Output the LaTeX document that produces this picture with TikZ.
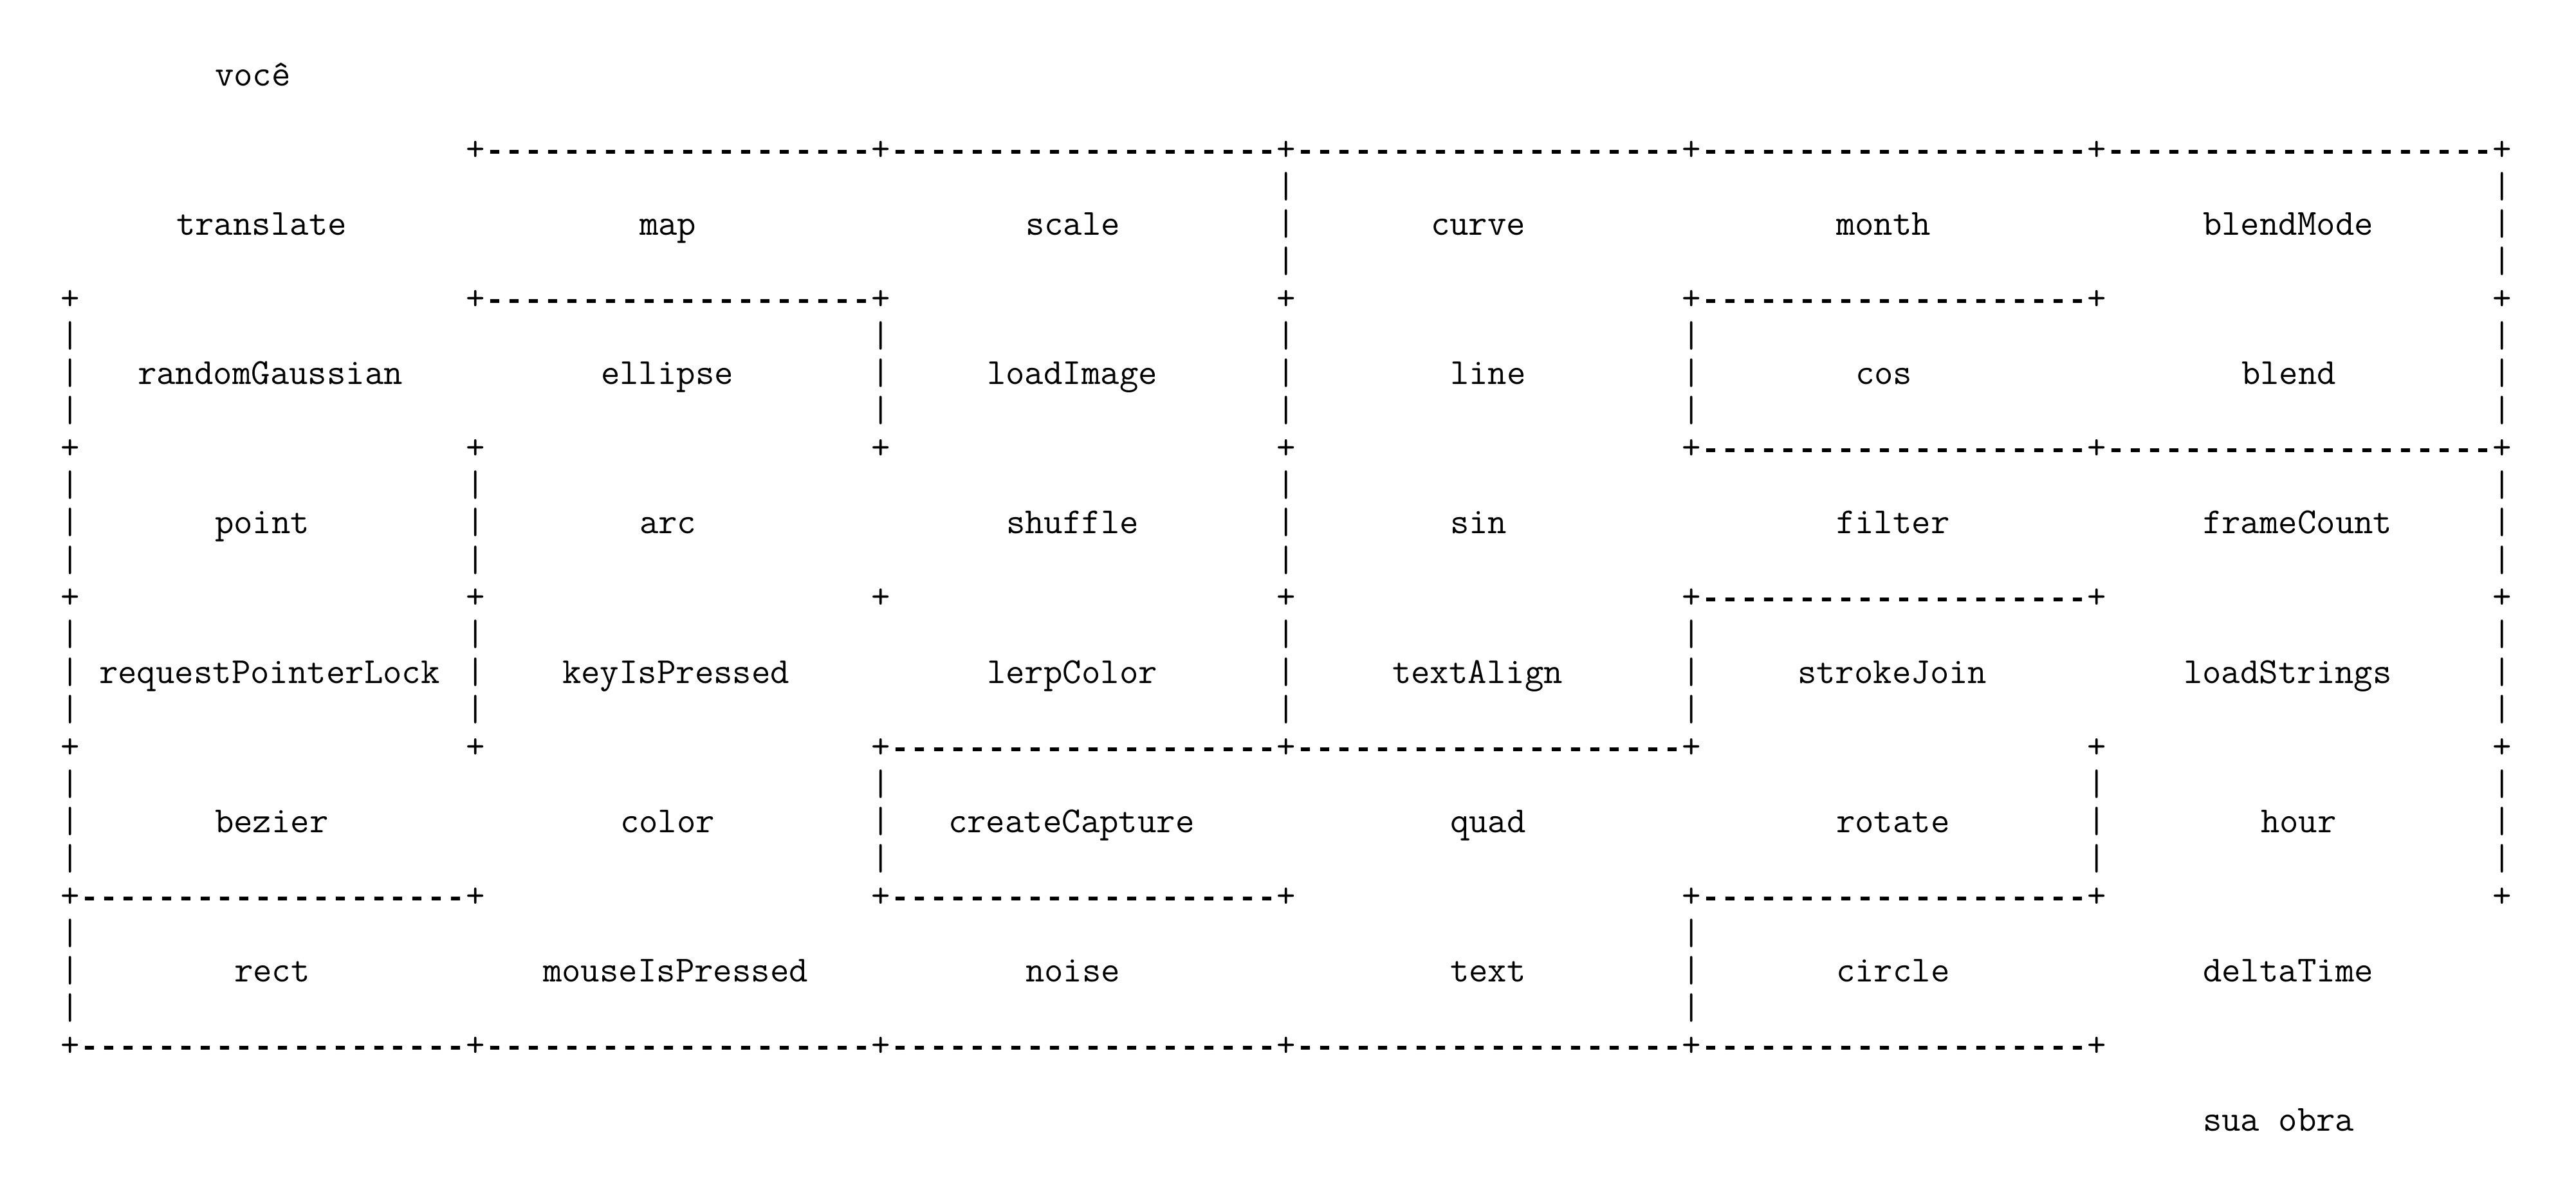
\documentclass[tikz,border=0pt]{standalone}
\usepackage{fontspec}
\newfontfamily\mzdashfont{Liberation Mono Bold}
% one dash per character cell, kept apart so no ligature forms
\newcommand\mzfive{-\kern0pt-\kern0pt-\kern0pt-\kern0pt-\kern0pt}
\newcommand\mzwall{\mzfive\mzfive\mzfive\mzfive}
\begin{document}
\begin{tikzpicture}[x=6pt,y=-11.6pt]
    \tikzset{glyph/.style = {anchor=base west,inner sep=0pt,outer sep=0pt,
        font=\ttfamily\fontsize{11.4286}{13}\selectfont}}
    \tikzset{cell/.style = {glyph}}
    \tikzset{dashrun/.style = {glyph,font=\mzdashfont\fontsize{10}{13}\selectfont}}
    \useasboundingbox (-3.1333,-2.3103) rectangle (130.3333,29.7241);
    % entrance and exit
    \node[glyph] (voce) at (8,0) {você};
    \node[glyph] (obra) at (111,28) {sua obra};
    % first row
    \node[cell] (translate) at (6,4) {translate};
    \node[cell] (map) at (30,4) {map};
    \node[cell] (scale) at (50,4) {scale};
    \node[cell] (curve) at (71,4) {curve};
    \node[cell] (month) at (92,4) {month};
    \node[cell] (blendMode) at (111,4) {blendMode};
    % second row
    \node[cell] (randomGaussian) at (4,8) {randomGaussian};
    \node[cell] (ellipse) at (28,8) {ellipse};
    \node[cell] (loadImage) at (48,8) {loadImage};
    \node[cell] (line) at (72,8) {line};
    \node[cell] (cos) at (93,8) {cos};
    \node[cell] (blend) at (113,8) {blend};
    % third row
    \node[cell] (point) at (8,12) {point};
    \node[cell] (arc) at (30,12) {arc};
    \node[cell] (shuffle) at (49,12) {shuffle};
    \node[cell] (sin) at (72,12) {sin};
    \node[cell] (filter) at (92,12) {filter};
    \node[cell] (frameCount) at (111,12) {frameCount};
    % fourth row
    \node[cell] (requestPointerLock) at (2,16) {requestPointerLock};
    \node[cell] (keyIsPressed) at (26,16) {keyIsPressed};
    \node[cell] (lerpColor) at (48,16) {lerpColor};
    \node[cell] (textAlign) at (69,16) {textAlign};
    \node[cell] (strokeJoin) at (90,16) {strokeJoin};
    \node[cell] (loadStrings) at (110,16) {loadStrings};
    % fifth row
    \node[cell] (bezier) at (8,20) {bezier};
    \node[cell] (color) at (29,20) {color};
    \node[cell] (createCapture) at (46,20) {createCapture};
    \node[cell] (quad) at (72,20) {quad};
    \node[cell] (rotate) at (92,20) {rotate};
    \node[cell] (hour) at (114,20) {hour};
    % sixth row
    \node[cell] (rect) at (9,24) {rect};
    \node[cell] (mouseIsPressed) at (25,24) {mouseIsPressed};
    \node[cell] (noise) at (50,24) {noise};
    \node[cell] (text) at (72,24) {text};
    \node[cell] (circle) at (92,24) {circle};
    \node[cell] (deltaTime) at (111,24) {deltaTime};
    % corners
    \foreach \r in {0,...,6}
      \foreach \c in {0,...,6}{
        \ifnum\numexpr\c+\r\relax=0 \else
          \ifnum\numexpr\c+\r\relax=12 \else
            \node[glyph] (p-\c-\r) at (21*\c,4*\r+2) {+};
          \fi
        \fi
      }
    % horizontal walls: text line / cells
    \foreach \l/\cs in {2/{1,2,3,4,5}, 6/{1,4}, 10/{4,5}, 14/{4},
                        18/{2,3}, 22/{0,2,4}, 26/{0,1,2,3,4}}
      \foreach \c in \cs
        \node[dashrun] (h-\l-\c) at (21*\c+1,\l) {\mzwall};
    % vertical walls: column / rows
    \foreach \c/\rs in {0/{1,2,3,4,5}, 1/{2,3}, 2/{1,4}, 3/{0,1,2,3},
                        4/{1,3,5}, 5/{4}, 6/{0,1,2,3,4}}
      \foreach \r in \rs
        \foreach \d in {3,4,5}
          \node[glyph] (v-\c-\r-\d) at (21*\c,4*\r+\d) {|};
\end{tikzpicture}
\end{document}
